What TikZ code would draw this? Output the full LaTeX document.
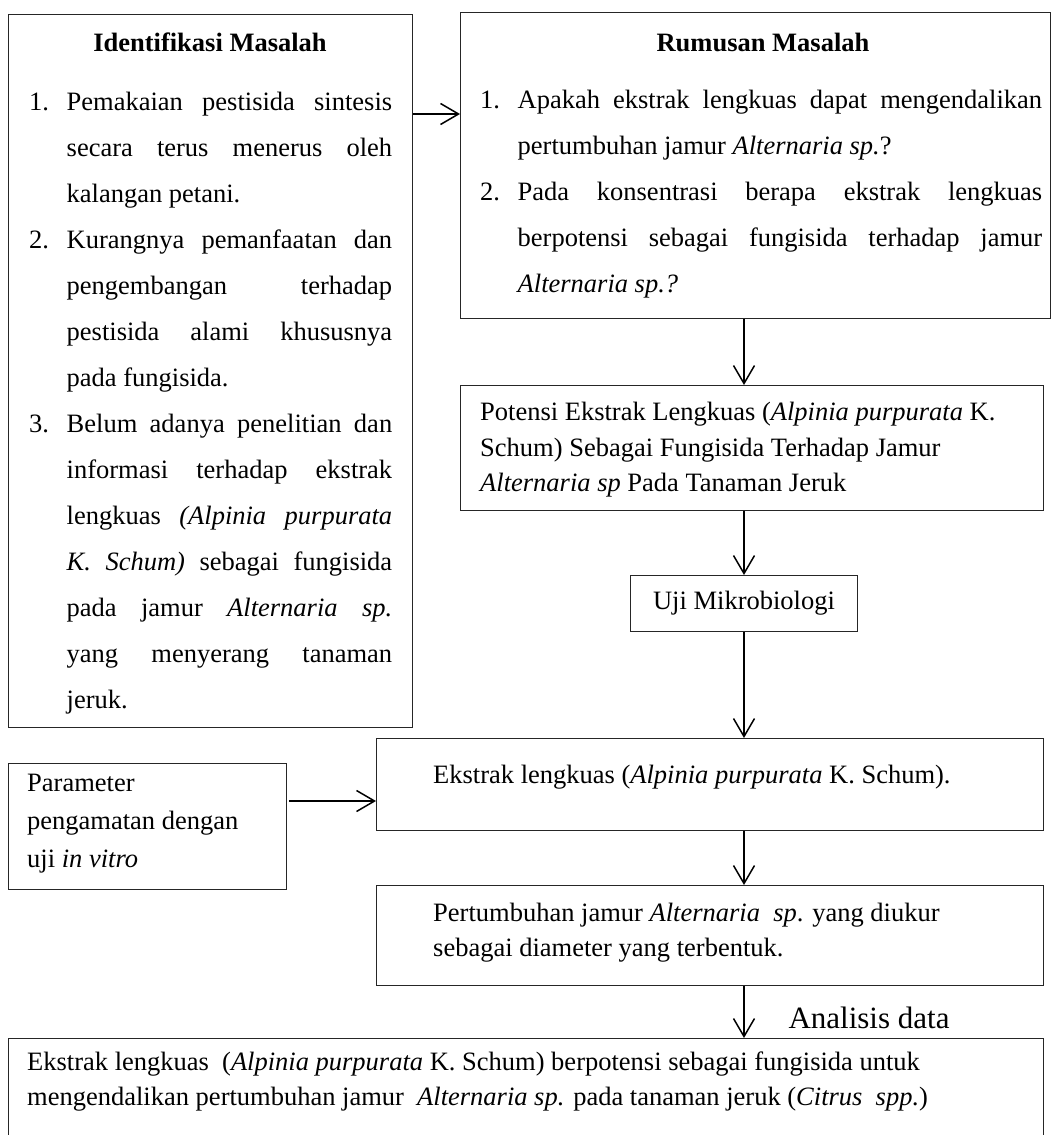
\documentclass[tikz,border=0pt]{standalone}
\usepackage{fontspec}
\setmainfont{Liberation Serif}
\usetikzlibrary{positioning,arrows.meta}

\setlength{\parindent}{0pt}
\newcommand{\numitem}[1]{\noindent\hangindent=37.5pt\hangafter=1\makebox[37.5pt][l]{#1}\ignorespaces}

\begin{document}
\begin{tikzpicture}[x=1pt,y=-1pt,
  box/.style={draw=black!85,line width=1pt,inner sep=0pt,anchor=north west},
  txt/.style={inner sep=0pt,anchor=north west,font=\fontsize{26.5}{46}\selectfont},
  arr/.style={line width=1.5pt,-{Straight Barb[length=18pt,width=21pt]}}]
\useasboundingbox (0,0) rectangle (1060,1135);

% boxes
\node[box,minimum width=404pt,minimum height=713pt] (idm) at (8,14) {};
\node[box,minimum width=590pt,minimum height=306pt] (rum) at (460,12) {};
\node[box,minimum width=583pt,minimum height=125pt] (pot) at (460,385) {};
\node[box,minimum width=227pt,minimum height=56pt,font=\fontsize{26.5}{30}\selectfont] (uji) at (630,575) {Uji Mikrobiologi};
\node[box,minimum width=667pt,minimum height=92pt] (ekstrak) at (376,738) {};
\node[box,minimum width=278pt,minimum height=126pt] (param) at (8,763) {};
\node[box,minimum width=667pt,minimum height=100pt] (pert) at (376,885) {};
\node[box,minimum width=1035pt,minimum height=120pt] (hasil) at (8,1038) {};

% texts
\node[anchor=base,inner sep=0pt,font=\bfseries\fontsize{26.5}{46}\selectfont] (idmhead) at (210,51) {Identifikasi Masalah};
\node[txt,text width=363pt,align=justify] (idmlist) at (29,92) {%
\numitem{1.}Pemakaian pestisida sintesis\linebreak secara terus menerus oleh\linebreak kalangan petani.\par
\numitem{2.}Kurangnya pemanfaatan dan\linebreak pengembangan terhadap\linebreak pestisida alami khususnya\linebreak pada fungisida.\par
\numitem{3.}Belum adanya penelitian dan\linebreak informasi terhadap ekstrak\linebreak lengkuas \textit{(Alpinia purpurata}\linebreak \textit{K. Schum)} sebagai fungisida\linebreak pada jamur \textit{Alternaria sp.}\linebreak yang menyerang tanaman\linebreak jeruk.\par};

\node[anchor=base,inner sep=0pt,font=\bfseries\fontsize{26.5}{46}\selectfont] (rumhead) at (763,51) {Rumusan Masalah};
\node[txt,text width=562pt,align=justify] (rumlist) at (480,90) {%
\numitem{1.}Apakah ekstrak lengkuas dapat mengendalikan\linebreak pertumbuhan jamur \textit{Alternaria sp.}?\par
\numitem{2.}Pada konsentrasi berapa ekstrak lengkuas\linebreak berpotensi sebagai fungisida terhadap jamur\linebreak \textit{Alternaria sp.?}\par};

\node[txt,align=left,font=\fontsize{26.5}{35.5}\selectfont] (pottxt) at (480,402) {Potensi Ekstrak Lengkuas (\textit{Alpinia purpurata} K.\\
Schum) Sebagai Fungisida Terhadap Jamur\\
\textit{Alternaria sp} Pada Tanaman Jeruk};

\node[anchor=base west,inner sep=0pt,font=\fontsize{26.5}{35}\selectfont] (ekstraktxt) at (433,783) {Ekstrak lengkuas (\textit{Alpinia purpurata} K. Schum).};

\node[txt,align=left,font=\fontsize{26.5}{38}\selectfont] (paramtxt) at (27,774) {Parameter\\
pengamatan dengan\\
uji \textit{in vitro}};

\node[txt,align=left,font=\fontsize{26.5}{35}\selectfont] (perttxt) at (433,903) {Pertumbuhan jamur \textit{Alternaria}\ \ \textit{sp}. yang diukur\\
sebagai diameter yang terbentuk.};

\node[txt,align=left,font=\fontsize{26.5}{35}\selectfont] (hasiltxt) at (27,1052) {Ekstrak lengkuas\ \ (\textit{Alpinia purpurata} K. Schum) berpotensi sebagai fungisida untuk\\
mengendalikan pertumbuhan jamur\ \ \textit{Alternaria sp.} pada tanaman jeruk (\textit{Citrus}\ \ \textit{spp.})};

\node[inner sep=0pt,font=\fontsize{31}{36}\selectfont] (analisis) at (869,1018) {Analisis data};

% arrows
\coordinate (lvla) at (0,114);
\coordinate (lvlb) at (0,801);
\draw[arr] (idm.east |- lvla) -- (rum.west |- lvla);
\draw[arr] (rum.south -| uji.center) -- (pot.north -| uji.center);
\draw[arr] (pot.south -| uji.center) -- (uji.north);
\draw[arr] (uji.south) -- (ekstrak.north -| uji.center);
\draw[arr] (ekstrak.south -| uji.center) -- (pert.north -| uji.center);
\draw[arr] (pert.south -| uji.center) -- (hasil.north -| uji.center);
\draw[arr] ([xshift=2pt]param.east |- lvlb) -- (ekstrak.west |- lvlb);
\end{tikzpicture}
\end{document}
